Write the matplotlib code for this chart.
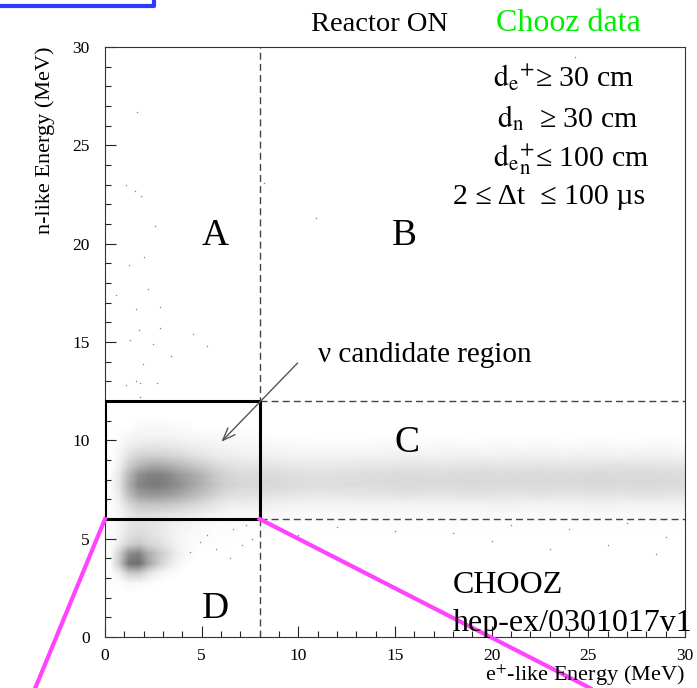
import matplotlib
matplotlib.use("Agg")
import matplotlib.pyplot as plt
from matplotlib.colors import LinearSegmentedColormap
from matplotlib.ticker import MultipleLocator
from matplotlib.lines import Line2D

# ============== DATA ==============
# relative dot density in the candidate box + region D
# x bins 0..8 MeV (0.5 MeV), rows from y=11.5 down to y=2.0 (0.5 MeV)
NEAR_EXTENT = (0.0, 8.0, 2.0, 11.5)
near_density = [
    [0, 0, 0, 0, 0, 0, 0, 0, 0, 0, 0, 0, 0, 0, 0, 0],
    [0, 0, 0, 0.5, 0.5, 0.5, 0.5, 0.3, 0.3, 0, 0, 0, 0, 0, 0, 0],
    [0, 0.3, 0.6, 0.8, 0.8, 0.8, 0.8, 0.7, 0.6, 0.5, 0.5, 0.4, 0.4, 0.4, 0.4, 0.4],
    [0, 0.5, 1.2, 1.6, 1.8, 1.8, 1.7, 1.5, 1.3, 1.1, 1.0, 0.9, 0.8, 0.7, 0.6, 0.6],
    [0, 0.8, 2.2, 3.0, 3.2, 3.2, 3.0, 2.8, 2.4, 2.0, 1.7, 1.4, 1.2, 1.1, 1.0, 1.0],
    [0, 1.2, 3.5, 5.0, 5.8, 6.0, 5.6, 5.0, 4.4, 3.8, 3.2, 2.6, 2.2, 2.0, 1.8, 1.8],
    [0.2, 1.8, 5.2, 7.8, 8.8, 9.0, 8.4, 7.4, 6.6, 5.8, 4.8, 3.8, 3.2, 2.8, 2.6, 2.6],
    [0.2, 2.0, 5.8, 8.6, 9.2, 9.4, 8.8, 8.0, 7.0, 6.0, 5.0, 4.0, 3.4, 3.0, 2.8, 2.8],
    [0.2, 1.6, 4.8, 6.8, 7.4, 7.4, 7.0, 6.4, 5.6, 4.8, 4.0, 3.2, 2.6, 2.3, 2.2, 2.2],
    [0.1, 1.0, 2.8, 4.0, 4.2, 4.2, 4.0, 3.6, 3.2, 2.8, 2.3, 1.8, 1.4, 1.2, 1.2, 1.2],
    [0.1, 0.7, 1.8, 2.4, 2.4, 2.3, 2.1, 1.9, 1.7, 1.4, 1.1, 0.9, 0.7, 0.6, 0.6, 0.6],
    [0.1, 0.8, 1.8, 2.2, 2.0, 1.7, 1.3, 1.0, 0.8, 0.6, 0.4, 0.3, 0.3, 0.3, 0.3, 0.3],
    [0.1, 1.0, 2.2, 2.6, 2.2, 1.8, 1.2, 0.8, 0.5, 0.4, 0.3, 0.2, 0.2, 0.2, 0.1, 0.1],
    [0.1, 1.4, 3.2, 3.8, 3.0, 2.4, 1.6, 0.9, 0.5, 0.3, 0.2, 0.1, 0.1, 0.1, 0, 0],
    [0.2, 3.4, 8.0, 9.0, 5.8, 4.0, 2.6, 1.2, 0.4, 0.2, 0, 0, 0, 0, 0, 0],
    [0.2, 4.0, 9.8, 10.2, 6.4, 3.8, 2.0, 0.8, 0.2, 0, 0, 0, 0, 0, 0, 0],
    [0, 1.2, 3.6, 3.8, 2.0, 1.0, 0.4, 0.1, 0, 0, 0, 0, 0, 0, 0, 0],
    [0, 0.2, 0.6, 0.6, 0.3, 0.1, 0, 0, 0, 0, 0, 0, 0, 0, 0, 0],
    [0, 0, 0, 0, 0, 0, 0, 0, 0, 0, 0, 0, 0, 0, 0, 0],
]

# band in region C: x bins 8..30 MeV (1 MeV), rows from y=10.5 down to y=4.5 (0.5 MeV)
BAND_EXTENT = (8.0, 30.0, 4.5, 10.5)
band_density = [
    [0.1, 0.1, 0.1, 0.1, 0.1, 0.1, 0.1, 0.1, 0.1, 0.1, 0.1, 0.1, 0.1, 0.1, 0.1, 0.1, 0.1, 0.1, 0.1, 0.1, 0.1, 0.1],
    [0.6, 0.5, 0.4, 0.4, 0.4, 0.4, 0.5, 0.4, 0.4, 0.5, 0.4, 0.4, 0.5, 0.4, 0.5, 0.4, 0.4, 0.5, 0.4, 0.4, 0.5, 0.4],
    [1.0, 0.9, 0.8, 0.8, 0.9, 0.8, 0.9, 1.0, 0.9, 0.9, 1.0, 0.9, 0.9, 1.0, 1.0, 0.9, 1.0, 1.0, 0.9, 1.0, 1.0, 0.9],
    [1.8, 1.6, 1.5, 1.5, 1.6, 1.7, 1.7, 1.8, 1.8, 1.7, 1.8, 1.9, 1.8, 1.8, 1.9, 1.8, 1.8, 1.9, 2.0, 1.9, 1.9, 1.8],
    [2.6, 2.4, 2.2, 2.2, 2.3, 2.4, 2.5, 2.6, 2.5, 2.5, 2.6, 2.6, 2.5, 2.6, 2.6, 2.5, 2.6, 2.7, 2.6, 2.6, 2.6, 2.5],
    [2.8, 2.6, 2.4, 2.4, 2.5, 2.5, 2.6, 2.7, 2.7, 2.6, 2.7, 2.7, 2.6, 2.7, 2.7, 2.6, 2.7, 2.8, 2.7, 2.7, 2.7, 2.6],
    [2.2, 2.0, 1.8, 1.8, 1.9, 1.9, 2.0, 2.1, 2.0, 2.0, 2.1, 2.1, 2.0, 2.0, 2.1, 2.0, 2.0, 2.1, 2.0, 2.1, 2.1, 2.0],
    [1.2, 1.0, 0.9, 0.9, 0.9, 1.0, 1.0, 1.0, 1.0, 1.0, 1.0, 1.0, 1.1, 1.0, 1.0, 1.0, 1.0, 1.1, 1.0, 1.0, 1.0, 1.0],
    [0.6, 0.5, 0.5, 0.5, 0.5, 0.5, 0.5, 0.5, 0.5, 0.5, 0.5, 0.5, 0.5, 0.5, 0.5, 0.5, 0.5, 0.5, 0.5, 0.5, 0.5, 0.5],
    [0.3, 0.2, 0.2, 0.2, 0.2, 0.2, 0.2, 0.2, 0.2, 0.2, 0.2, 0.2, 0.2, 0.2, 0.2, 0.2, 0.2, 0.2, 0.2, 0.2, 0.2, 0.2],
    [0.2, 0.1, 0.1, 0.1, 0.1, 0.1, 0.1, 0.1, 0.1, 0.1, 0.1, 0.1, 0.1, 0.1, 0.1, 0.1, 0.1, 0.1, 0.1, 0.1, 0.1, 0.1],
    [0, 0, 0, 0, 0, 0, 0, 0, 0, 0, 0, 0, 0, 0, 0, 0, 0, 0, 0, 0, 0, 0],
]

# isolated events
stray_x = [1.64, 1.08, 1.55, 1.84, 2.58, 2.03, 1.26, 0.55, 2.24, 1.58, 2.87, 1.74, 2.84, 4.56,
           1.29, 2.50, 5.25, 3.41, 1.94, 1.08, 1.58, 1.81, 2.70, 1.81, 8.2, 24.3, 10.9,
           20.0, 23.0, 26.0, 28.5, 18.0, 24.0, 12.0, 15.0, 10.0, 27.0, 29.0, 21.0,
           5.76, 6.45, 7.1, 7.6, 4.9, 4.4, 5.25, 6.6, 7.3]
stray_y = [26.7, 23.0, 22.7, 22.4, 20.9, 19.3, 18.9, 17.4, 17.7, 16.7, 16.8, 15.6, 15.7, 15.4,
           15.1, 14.9, 14.8, 14.3, 13.9, 12.8, 13.0, 12.9, 12.9, 12.2, 23.1, 29.5, 21.3,
           4.9, 4.5, 4.7, 4.2, 5.3, 5.5, 5.6, 5.4, 5.2, 5.8, 5.1, 5.7,
           4.5, 4.0, 4.7, 5.0, 4.85, 4.3, 5.2, 5.5, 5.7]

region_labels = ["A", "B", "C", "D"]
region_x = [5.7, 15.5, 15.6, 5.7]
region_y = [19.93, 19.93, 9.42, 0.98]

cuts = [r"$\mathrm{d}_{\mathrm{e}}{}^{+}$≥ 30 cm",
        r"$\mathrm{d}_{\mathrm{n}}$  ≥ 30 cm",
        r"$\mathrm{d}_{\mathrm{e}}{}^{+}_{\mathrm{n}}$≤ 100 cm",
        "2 ≤ Δt  ≤ 100 µs"]
# =========================================================

plt.rcParams["font.family"] = ["Liberation Serif", "DejaVu Serif"]
plt.rcParams["mathtext.fontset"] = "stix"

W, H = 697, 688
fig = plt.figure(figsize=(W / 100, H / 100), dpi=100)
ax = fig.add_axes([105 / W, 51 / H, 580 / W, 590 / H])

cmap = LinearSegmentedColormap.from_list("dots", ["#ffffff", "#000000"])
for dens, ext in [(near_density, NEAR_EXTENT), (band_density, BAND_EXTENT)]:
    ax.imshow(dens, extent=ext, origin="upper", cmap=cmap, vmin=0, vmax=18,
              interpolation="bilinear", aspect="auto", zorder=1)
ax.scatter(stray_x, stray_y, s=1.2, color="#8a8a8a", linewidths=0, zorder=2)

ax.set_xlim(0, 30)
ax.set_ylim(0, 30)

# selection cuts
ax.axvline(8, color="#444444", lw=1.0, ls=(0, (5, 3)), zorder=3)
ax.plot([8, 30], [12, 12], color="#444444", lw=1.0, ls=(0, (5, 3)), zorder=3)
ax.plot([8, 30], [6, 6], color="#444444", lw=1.0, ls=(0, (5, 3)), zorder=3)
ax.plot([0, 8, 8, 0, 0], [6, 6, 12, 12, 6], color="black", lw=2.2, zorder=4,
        solid_joinstyle="miter")

# zoom lines
ax.plot([0, -3.61], [6, -2.6], color="#ff44ff", lw=3, clip_on=False, zorder=5)
ax.plot([8, 25.1], [6, -2.6], color="#ff44ff", lw=3, clip_on=False, zorder=5)

for lab, x, y in zip(region_labels, region_x, region_y):
    ax.text(x, y, lab, fontsize=27, ha="center", va="baseline", zorder=6)

ax.annotate("", xy=(6.02, 9.93), xytext=(9.96, 13.93),
            arrowprops=dict(arrowstyle="->,head_length=0.9,head_width=0.35",
                            color="#555555", lw=1.0, shrinkA=0, shrinkB=0), zorder=6)
ax.text(11.0, 13.98, "ν candidate region", fontsize=21, ha="left", va="baseline")

ax.xaxis.set_major_locator(MultipleLocator(5))
ax.yaxis.set_major_locator(MultipleLocator(5))
ax.xaxis.set_minor_locator(MultipleLocator(1))
ax.yaxis.set_minor_locator(MultipleLocator(1))
ax.tick_params(which="both", direction="in", top=False, right=False, width=0.8,
               labelsize=12.5, color="#222222")
ax.tick_params(which="major", length=8)
ax.tick_params(which="minor", length=4.5)
ax.tick_params(axis="x", pad=8)
ax.tick_params(axis="y", pad=11)
for sp in ax.spines.values():
    sp.set_linewidth(0.8)
    sp.set_color("#333333")

fig.text(45 / W, 1 - 47 / H, "n-like Energy (MeV)", rotation=90, fontsize=16,
         ha="center", va="top")
fig.text(685 / W, 1 - 681 / H, r"e$^{+}$-like Energy (MeV)", fontsize=16,
         ha="right", va="baseline")

fig.text(311 / W, 1 - 31 / H, "Reactor ON", fontsize=20.5, va="baseline")
fig.text(496 / W, 1 - 31 / H, "Chooz data", fontsize=23, va="baseline", color="#00ee00")

cut_x = [493, 497, 493, 453]
cut_base = [87, 127, 167, 204]
for txt, cx, cb in zip(cuts, cut_x, cut_base):
    fig.text(cx / W, 1 - cb / H, txt, fontsize=21.5, va="baseline")

fig.text(453 / W, 1 - 593 / H, "CHOOZ", fontsize=23, va="baseline")
fig.text(453 / W, 1 - 631 / H, "hep-ex/0301017v1", fontsize=23, va="baseline")

# blue frame corner at the top left
fig.add_artist(Line2D([0, 154 / W, 154 / W], [1 - 5.5 / H, 1 - 5.5 / H, 1.0],
                      color="#2a3cff", lw=3, transform=fig.transFigure))

fig.savefig("out.png", dpi=100)
